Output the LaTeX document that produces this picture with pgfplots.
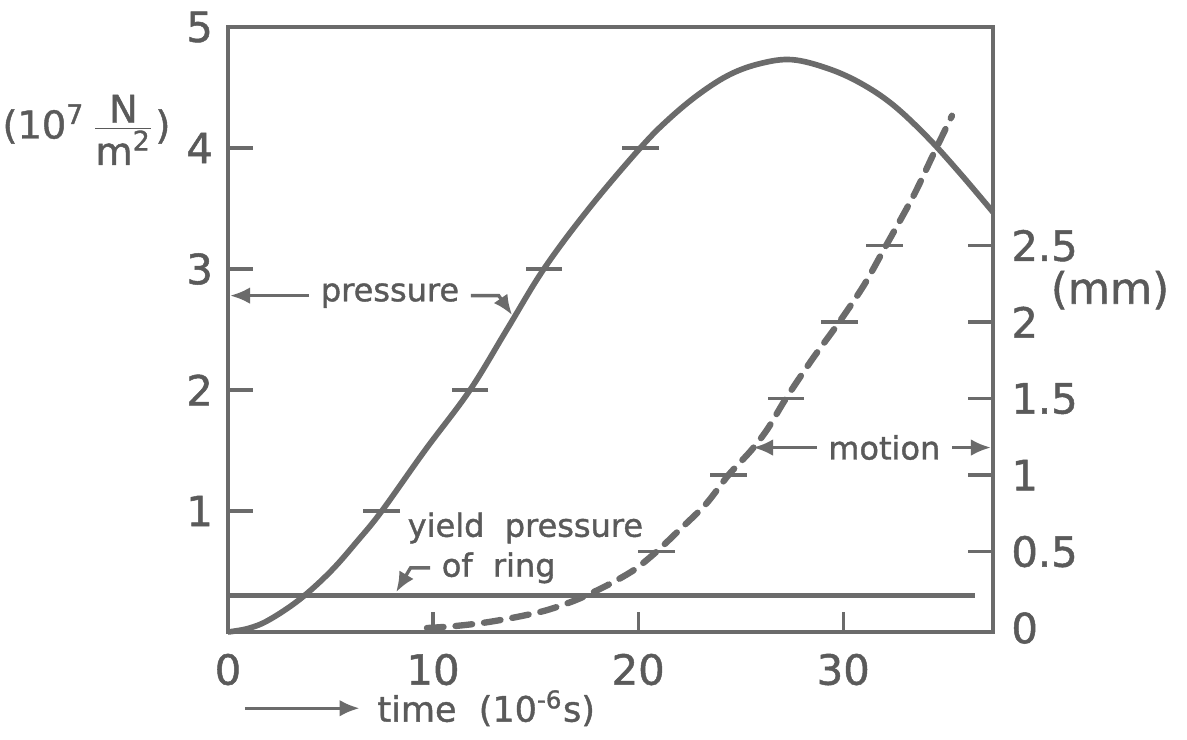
\documentclass[border=0pt]{standalone}
\usepackage{fontspec}
\setmainfont{DejaVu Sans}[FakeBold=1.2]
\usepackage{pgfplots}
\pgfplotsset{compat=1.18}
\usetikzlibrary{arrows.meta}

\definecolor{ink}{HTML}{6B6B6B}
\definecolor{txt}{HTML}{5A5A5A}

% pressure curve (10^7 N/m^2) against time (10^-6 s)
\pgfplotstableread{
t    p
0    0
1    0.03
2    0.10
3.5  0.27
5    0.50
6.3  0.75
7.5  1.00
9.6  1.50
11.8 2.00
13.6 2.50
15.4 3.00
17.6 3.50
20.1 4.00
21.5 4.24
23   4.45
24.5 4.61
26   4.70
27.5 4.73
29.2 4.66
30.8 4.54
32.4 4.36
34.1 4.09
35.7 3.79
37.3 3.47
}\pressure

% ring motion (mm)
\pgfplotstableread{
t    m
9.7  0
11   0.012
12.5 0.035
14   0.07
15.5 0.115
17   0.185
18.5 0.28
19.8 0.38
20.9 0.50
22   0.64
23.3 0.81
24.4 1.00
25.5 1.16
26.3 1.30
27.2 1.50
28.5 1.76
29.8 2.00
31   2.24
32   2.48
33.4 2.82
34.4 3.10
35.3 3.35
}\motion

\begin{document}
\begin{tikzpicture}
\pgfplotsset{
  every axis/.append style={
    scale only axis, width=229.5pt, height=181.5pt,
    xmin=0, xmax=37.3, clip=false,
    axis line style={ink, line width=1.3pt},
    tick style={ink, line width=1pt},
    tick align=inside,
    major tick length=7.5pt,
    ticklabel style={font=\fontsize{12.5}{14}\selectfont, text=txt},
    /pgf/number format/assume math mode=true,
  },
}
\begin{axis}[
  ymin=0, ymax=5,
  xtick={0,10,20,30}, ytick={1,2,3,4,5},
  xtick pos=bottom, ytick pos=left,
  xtick style={/pgfplots/major tick length=6pt},
  xticklabel style={yshift=-3pt},
  yticklabel style={xshift=-1pt},
]
\addplot[ink, line width=1.7pt, smooth, tension=0.6] table[x=t, y=p] {\pressure};
\addplot[only marks, mark=-, mark size=5.5pt, mark options={ink, line width=1pt}]
  coordinates {(7.5,1) (11.8,2) (15.4,3) (20.1,4)};
% yield pressure of ring
\addplot[ink, line width=1.5pt] coordinates {(0,0.3) (36.4,0.3)};

\node[txt, font=\fontsize{9.6}{12}\selectfont] (pr) at (axis cs:7.9,2.78) {pressure};
\draw[ink, line width=1pt, -{Latex[length=6pt,width=5pt]}] (pr.west) -- (axis cs:0.1,2.78);
\draw[ink, line width=1pt, -{Latex[length=6pt,width=5pt]}] (pr.east) -- (axis cs:13.2,2.78) -- (axis cs:13.85,2.62);

\node[txt, font=\fontsize{9.6}{12}\selectfont] at (axis cs:14.5,0.86) {yield\ \ pressure};
\node[txt, font=\fontsize{9.6}{12}\selectfont] (ring) at (axis cs:13.2,0.53) {of\ \ ring};
\draw[ink, line width=1pt, -{Latex[length=6pt,width=5pt]}] (ring.west) -- (axis cs:8.9,0.53) -- (axis cs:8.2,0.33);

\node[txt, font=\fontsize{11.5}{14}\selectfont] at (rel axis cs:-0.185,0.83)
  {(10\textsuperscript{7}\,$\frac{\mbox{N}}{\mbox{m\textsuperscript{2}}}$)};
\draw[ink, line width=1pt, -{Latex[length=6pt,width=5pt]}] (rel axis cs:0.022,-0.126) -- (rel axis cs:0.172,-0.126);
\node[txt, font=\fontsize{10.5}{12}\selectfont, anchor=west] at (rel axis cs:0.18,-0.126)
  {time\ \ (10\textsuperscript{-6}s)};
\end{axis}

\begin{axis}[
  ymin=-0.026, ymax=3.93,
  axis x line=none, axis y line*=right,
  ytick={0.5,1,1.5,2,2.5},
  extra y ticks={0},
  extra y tick style={/pgfplots/major tick length=0pt},
  yticklabel style={anchor=west, xshift=2pt},
]
\addplot[ink, line width=1.9pt, dash pattern=on 5pt off 3.6pt, line cap=round, smooth]
  table[x=t, y=m] {\motion};
\addplot[only marks, mark=-, mark size=5.5pt, mark options={ink, line width=1pt}]
  coordinates {(20.9,0.5) (24.4,1) (27.2,1.5) (29.8,2) (32,2.5)};

\node[txt, font=\fontsize{9.6}{12}\selectfont] (mo) at (axis cs:32.0,1.18) {motion};
\draw[ink, line width=1pt, -{Latex[length=6pt,width=5pt]}] (mo.west) -- (axis cs:25.6,1.18);
\draw[ink, line width=1pt, -{Latex[length=6pt,width=5pt]}] (mo.east) -- (axis cs:37.2,1.18);

\node[txt, font=\fontsize{13}{15}\selectfont] at (rel axis cs:1.153,0.565) {(mm)};
\end{axis}
\pgfresetboundingbox
\path[use as bounding box] (-68.4pt,-32.4pt) rectangle (287.7pt,189.6pt);
\end{tikzpicture}
\end{document}
